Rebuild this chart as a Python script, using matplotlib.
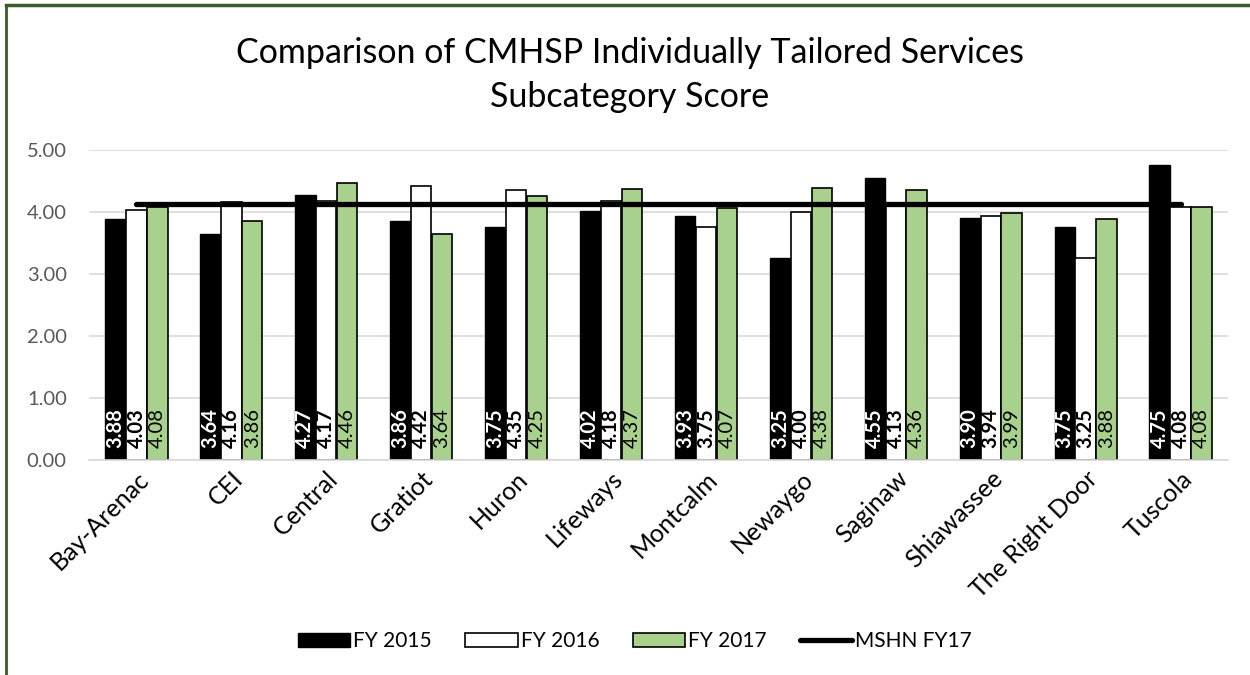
import matplotlib
matplotlib.use("Agg")
import matplotlib.pyplot as plt
import numpy as np
from matplotlib.lines import Line2D

plt.rcParams['font.family'] = ['Lato', 'DejaVu Sans']

agencies = ['Bay-Arenac', 'CEI', 'Central', 'Gratiot', 'Huron', 'Lifeways', 'Montcalm',
            'Newaygo', 'Saginaw', 'Shiawassee', 'The Right Door', 'Tuscola']
fy2015 = [3.88, 3.64, 4.27, 3.86, 3.75, 4.02, 3.93, 3.25, 4.55, 3.90, 3.75, 4.75]
fy2016 = [4.03, 4.16, 4.17, 4.42, 4.35, 4.18, 3.75, 4.00, 4.13, 3.94, 3.25, 4.08]
fy2017 = [4.08, 3.86, 4.46, 3.64, 4.25, 4.37, 4.07, 4.38, 4.36, 3.99, 3.88, 4.08]
mshn_fy17 = [4.13] * len(agencies)

green = '#A9D18E'
x = np.arange(len(agencies))
w = 0.215
off = 0.22

fig = plt.figure(figsize=(12.5, 6.75), dpi=100)
ax = fig.add_axes([0.0712, 0.3185, 0.9112, 0.4593])

b1 = ax.bar(x - off, fy2015, w, color='black', edgecolor='black', linewidth=1, zorder=2)
b2 = ax.bar(x, fy2016, w, color='white', edgecolor='black', linewidth=1.2, zorder=2)
b3 = ax.bar(x + off, fy2017, w, color=green, edgecolor='black', linewidth=1.2, zorder=2)
ax.plot(x, mshn_fy17, color='black', linewidth=3.8, solid_capstyle='round', zorder=3)

base = 0.2
for xi, v in zip(x, fy2015):
    ax.text(xi - off, base, f'{v:.2f}', rotation=90, ha='center', va='bottom',
            color='white', fontweight='bold', fontsize=14.5, zorder=4)
for xi, v in zip(x, fy2016):
    ax.text(xi, base, f'{v:.2f}', rotation=90, ha='center', va='bottom',
            color='black', fontweight='bold', fontsize=14.5, zorder=4)
for xi, v in zip(x, fy2017):
    ax.text(xi + off, base, f'{v:.2f}', rotation=90, ha='center', va='bottom',
            color='black', fontsize=14.5, zorder=4)

ax.set_xlim(-0.5, len(agencies) - 0.5)
ax.set_ylim(0, 5)
ax.set_yticks(np.arange(0, 5.01, 1))
ax.set_yticklabels([f'{t:.2f}' for t in np.arange(0, 5.01, 1)])
ax.yaxis.grid(True, color='#D9D9D9', linewidth=1.2, zorder=0)
ax.set_axisbelow(True)
for s in ['top', 'right', 'left']:
    ax.spines[s].set_visible(False)
ax.spines['bottom'].set_color('#D9D9D9')
ax.spines['bottom'].set_linewidth(1.2)
ax.tick_params(axis='y', length=0, labelsize=14.5, labelcolor='#595959', pad=16)
ax.tick_params(axis='x', length=0, labelsize=18, pad=5)
ax.set_xticks(x)
ax.set_xticklabels(agencies, rotation=45, ha='right', rotation_mode='anchor')

fig.text(0.504, 0.889, 'Comparison of CMHSP Individually Tailored Services\nSubcategory Score',
         ha='center', va='center', fontsize=24.5, linespacing=1.45)

handles = [b1, b2, b3, Line2D([0], [0], color='black', linewidth=3.8, solid_capstyle='round')]
fig.legend(handles, ['FY 2015', 'FY 2016', 'FY 2017', 'MSHN FY17'], loc='center',
           bbox_to_anchor=(0.508, 0.05), ncol=4, frameon=False, fontsize=15,
           handlelength=2.5, handleheight=0.65, handletextpad=0.15, columnspacing=1.6)

# dark green frame at top and left edges
fig.add_artist(Line2D([0.005, 1.0], [0.9925, 0.9925], color='#3d5a2a', linewidth=2.5,
                      transform=fig.transFigure))
fig.add_artist(Line2D([0.005, 0.005], [0.0, 0.9925], color='#3d5a2a', linewidth=2,
                      transform=fig.transFigure))

fig.savefig('out.png', dpi=100)
